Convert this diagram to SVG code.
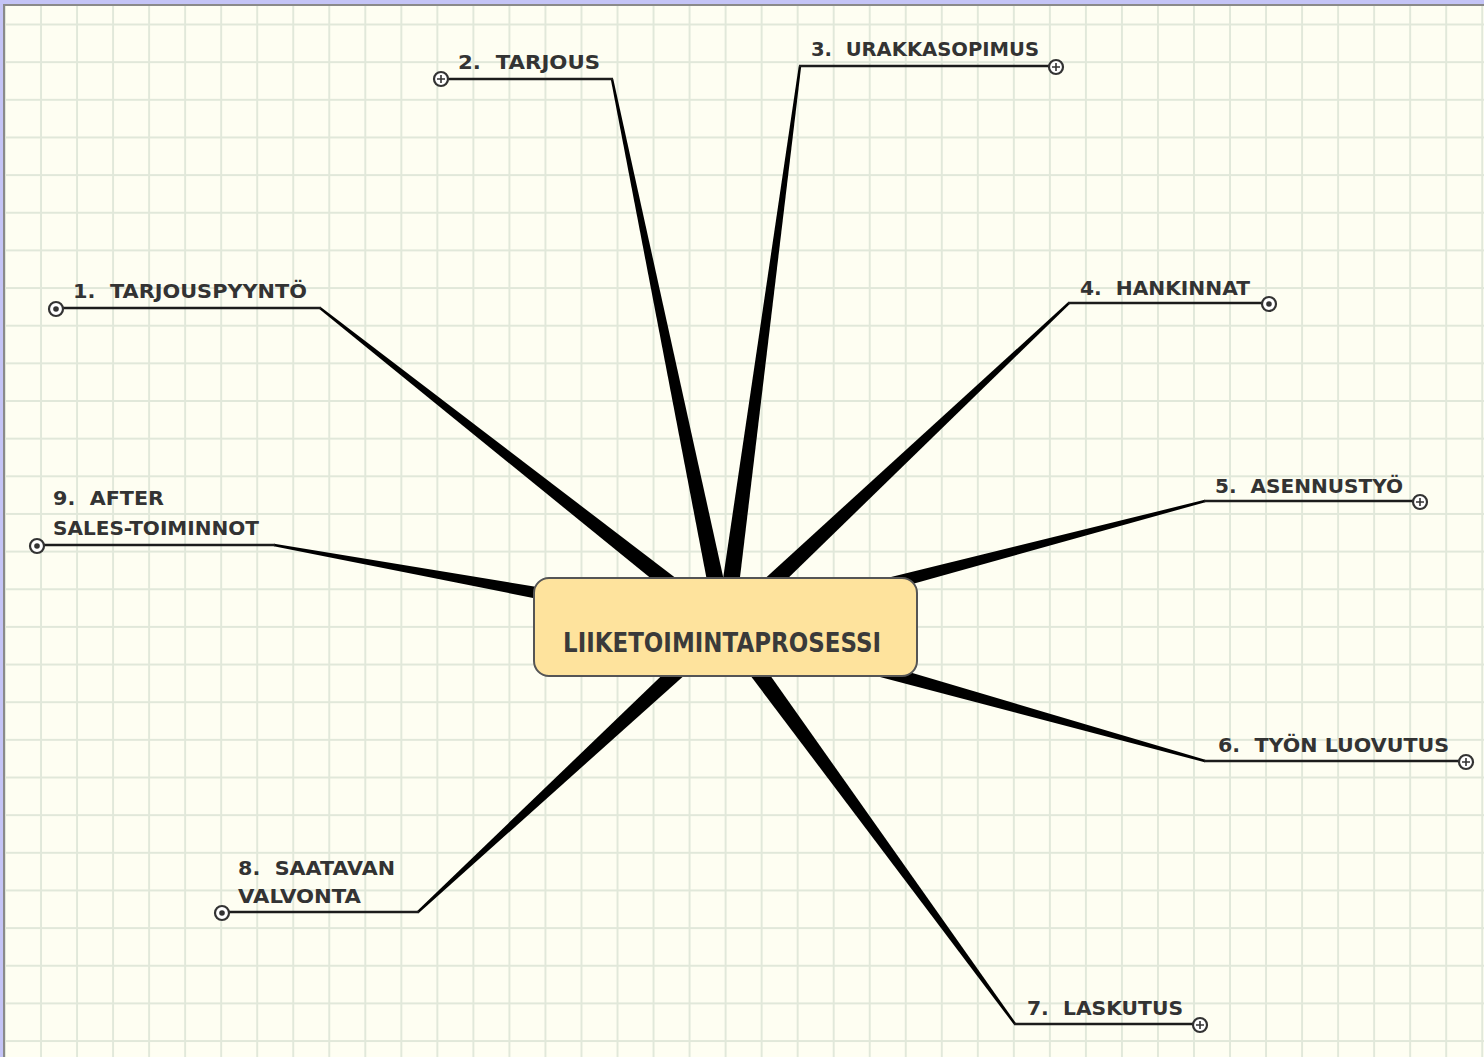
<svg xmlns="http://www.w3.org/2000/svg" width="1484" height="1057" viewBox="0 0 1484 1057">
<defs>
<pattern id="grid" x="5" y="24.5" width="36.03" height="37.65" patternUnits="userSpaceOnUse">
<rect x="-1" y="-1" width="2" height="40" fill="#e1e8da"/>
<rect x="-1" y="-1" width="40" height="2" fill="#e1e8da"/>
<rect x="35.03" y="-1" width="2" height="40" fill="#e1e8da"/>
<rect x="-1" y="36.65" width="40" height="2" fill="#e1e8da"/>
</pattern>
<style>
.lbl{font-family:"DejaVu Sans","Liberation Sans",sans-serif;font-weight:bold;font-size:20px;fill:#333;white-space:pre}
.ctr{font-family:"DejaVu Sans","Liberation Sans",sans-serif;font-weight:bold;font-size:26px;fill:#3a3a3a}
.ul{stroke:#1c1c1c;stroke-width:2.4;fill:none}
.br{fill:#000}
.knob{fill:#fff;stroke:#333;stroke-width:2.2}
.dot{fill:#333}
.plus{stroke:#333;stroke-width:1.6}
</style>
</defs>
<rect width="1484" height="1057" fill="#fefef2"/>
<rect width="1484" height="1057" fill="url(#grid)"/>
<rect x="0" y="0" width="1484" height="4" fill="#c4c4f6"/>
<rect x="0" y="0" width="3" height="1057" fill="#c4c4f6"/>
<rect x="3" y="4" width="1481" height="2" fill="#8a8a8a"/>
<rect x="3" y="4" width="2" height="1053" fill="#8a8a8a"/>

<g id="connectors">
<polygon class="br" points="320.7,307.1 730.6,619.9 719.4,634.1 319.3,308.9"/>
<polygon class="br" points="613.2,78.8 733.8,625.2 716.2,628.8 610.8,79.2"/>
<polygon class="br" points="801.2,66.2 733.9,628.2 716.1,625.8 798.8,65.8"/>
<polygon class="br" points="1069.8,303.9 731.2,633.5 718.8,620.5 1068.2,302.1"/>
<polygon class="br" points="1205.3,502.2 727.3,635.7 722.7,618.3 1204.7,499.8"/>
<polygon class="br" points="1205.3,759.8 727.4,618.3 722.6,635.7 1204.7,762.2"/>
<polygon class="br" points="1016,1023.3 732.3,621.7 717.7,632.3 1014,1024.7"/>
<polygon class="br" points="417.2,911.1 718.9,620.4 731.1,633.6 418.8,912.9"/>
<polygon class="br" points="274.2,543.8 726.6,618.1 723.4,635.9 273.8,546.2"/>
</g>

<g id="center">
<rect x="534" y="578" width="383" height="98" rx="15" ry="15" fill="#fee39d" stroke="#555" stroke-width="2"/>
<text class="ctr" x="563" y="652" textLength="318" lengthAdjust="spacingAndGlyphs">LIIKETOIMINTAPROSESSI</text>
</g>

<g id="n1">
<path class="ul" d="M56,308 H321"/>
<circle class="knob" cx="56" cy="309" r="7"/><circle class="dot" cx="56" cy="309" r="2.8"/>
<text class="lbl" x="73" y="298" textLength="234" lengthAdjust="spacingAndGlyphs">1.  TARJOUSPYYNTÖ</text>
</g>

<g id="n2">
<path class="ul" d="M441,79 H613"/>
<circle class="knob" cx="441" cy="79" r="7"/><path class="plus" d="M437,79 H445 M441,75 V83"/>
<text class="lbl" x="458" y="69" textLength="142" lengthAdjust="spacingAndGlyphs">2.  TARJOUS</text>
</g>

<g id="n3">
<path class="ul" d="M799,66 H1056"/>
<circle class="knob" cx="1056" cy="67" r="7"/><path class="plus" d="M1052,67 H1060 M1056,63 V71"/>
<text class="lbl" x="811" y="56" textLength="228" lengthAdjust="spacingAndGlyphs">3.  URAKKASOPIMUS</text>
</g>

<g id="n4">
<path class="ul" d="M1068,303 H1269"/>
<circle class="knob" cx="1269" cy="304" r="7"/><circle class="dot" cx="1269" cy="304" r="2.8"/>
<text class="lbl" x="1080" y="295" textLength="170" lengthAdjust="spacingAndGlyphs">4.  HANKINNAT</text>
</g>

<g id="n5">
<path class="ul" d="M1204,501 H1420"/>
<circle class="knob" cx="1420" cy="502" r="7"/><path class="plus" d="M1416,502 H1424 M1420,498 V506"/>
<text class="lbl" x="1215" y="493" textLength="188" lengthAdjust="spacingAndGlyphs">5.  ASENNUSTYÖ</text>
</g>

<g id="n6">
<path class="ul" d="M1204,761 H1466"/>
<circle class="knob" cx="1466" cy="762" r="7"/><path class="plus" d="M1462,762 H1470 M1466,758 V766"/>
<text class="lbl" x="1218" y="752" textLength="231" lengthAdjust="spacingAndGlyphs">6.  TYÖN LUOVUTUS</text>
</g>

<g id="n7">
<path class="ul" d="M1014,1024 H1200"/>
<circle class="knob" cx="1200" cy="1025" r="7"/><path class="plus" d="M1196,1025 H1204 M1200,1021 V1029"/>
<text class="lbl" x="1027" y="1015" textLength="156" lengthAdjust="spacingAndGlyphs">7.  LASKUTUS</text>
</g>

<g id="n8">
<path class="ul" d="M222,912 H419"/>
<circle class="knob" cx="222" cy="913" r="7"/><circle class="dot" cx="222" cy="913" r="2.8"/>
<text class="lbl" x="238" y="875" textLength="157" lengthAdjust="spacingAndGlyphs">8.  SAATAVAN</text>
<text class="lbl" x="238" y="903" textLength="123" lengthAdjust="spacingAndGlyphs">VALVONTA</text>
</g>

<g id="n9">
<path class="ul" d="M37,545 H275"/>
<circle class="knob" cx="37" cy="546" r="7"/><circle class="dot" cx="37" cy="546" r="2.8"/>
<text class="lbl" x="53" y="505" textLength="111" lengthAdjust="spacingAndGlyphs">9.  AFTER</text>
<text class="lbl" x="53" y="535" textLength="206" lengthAdjust="spacingAndGlyphs">SALES-TOIMINNOT</text>
</g>
</svg>
